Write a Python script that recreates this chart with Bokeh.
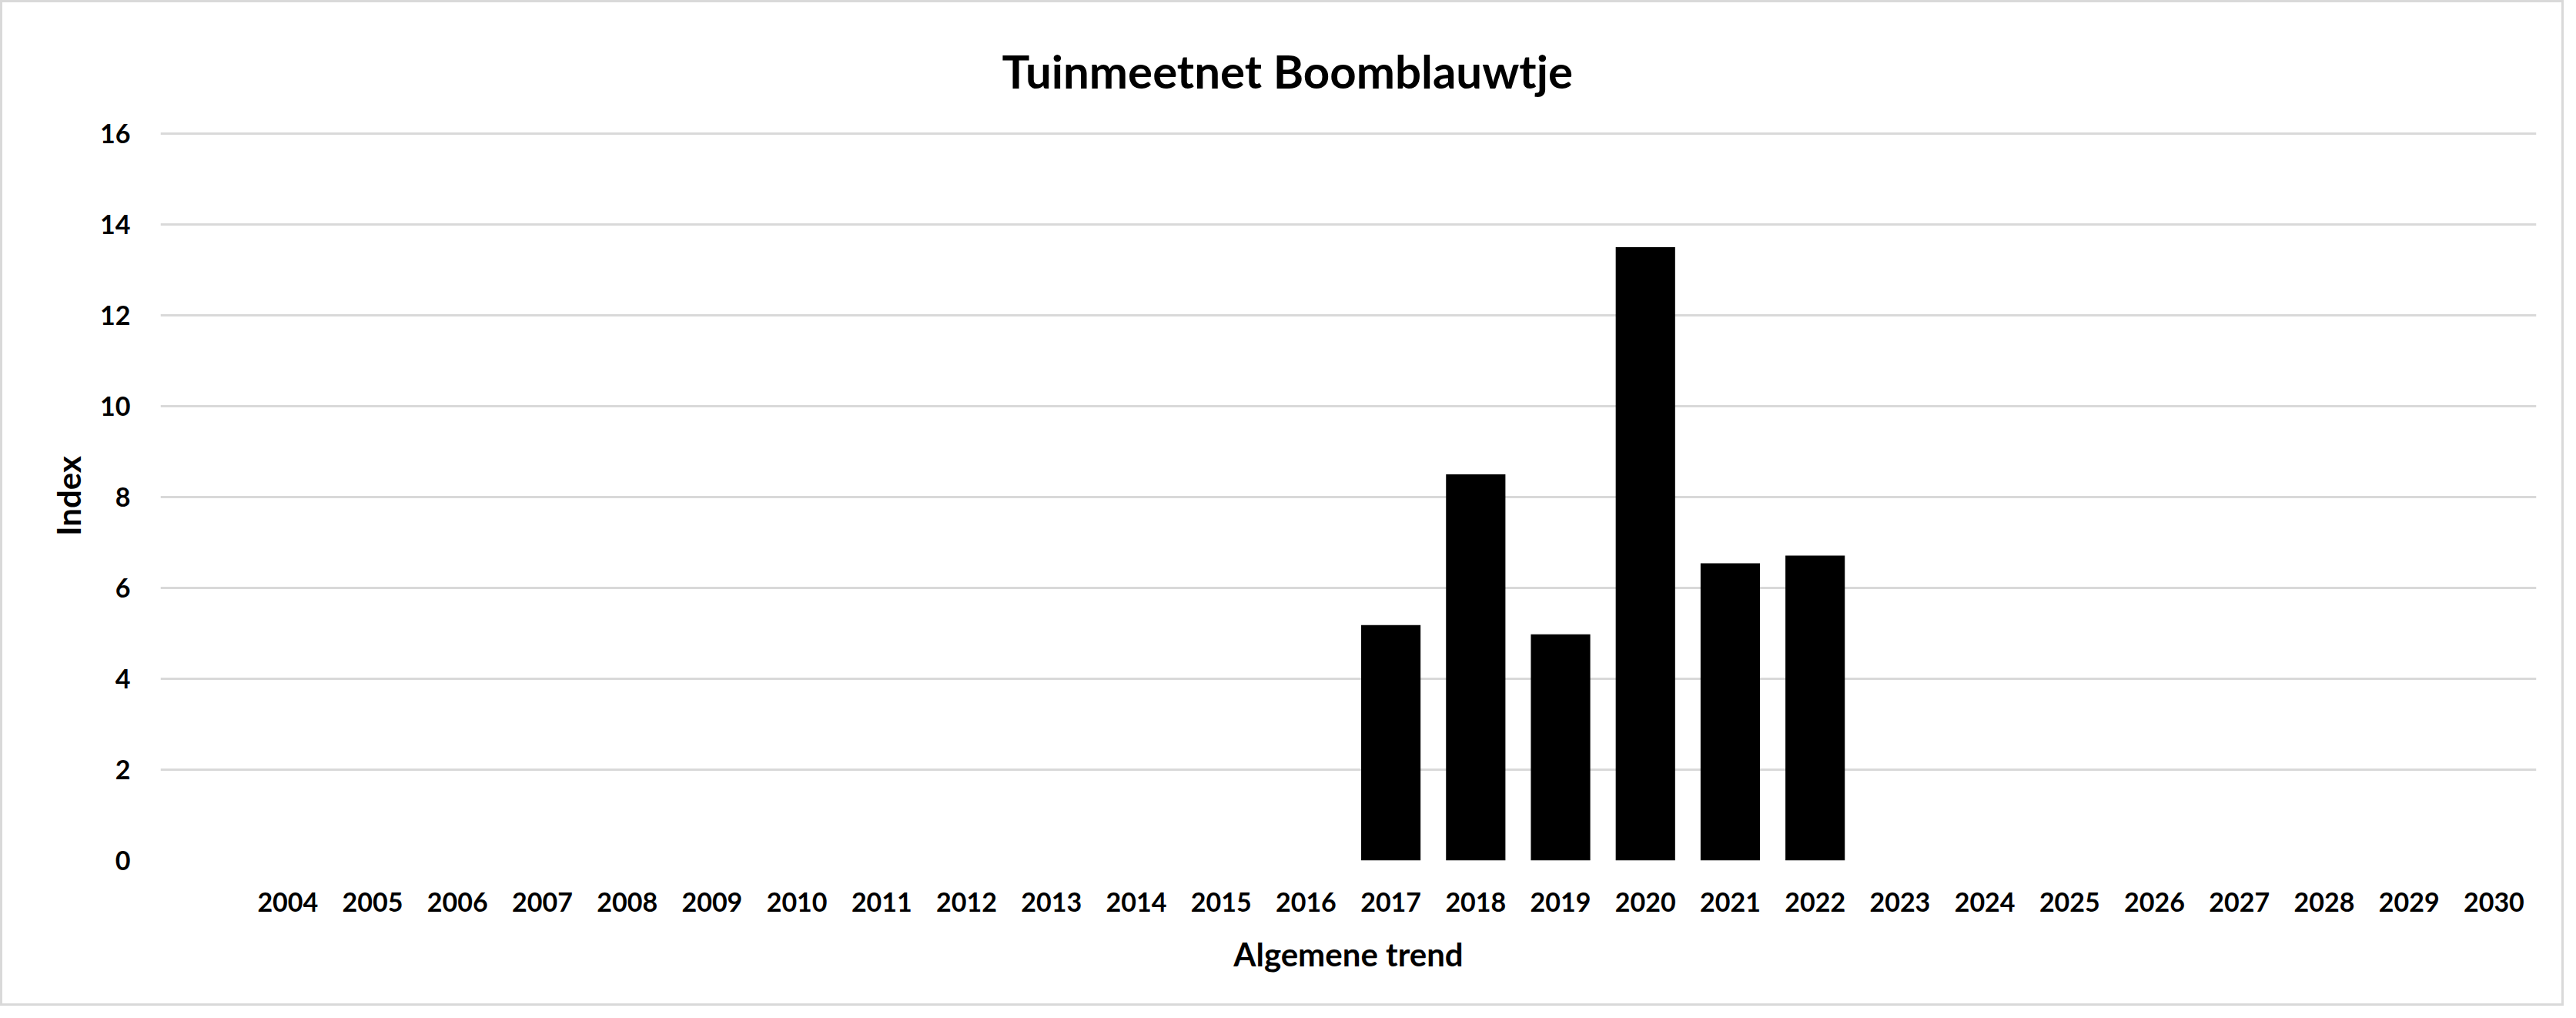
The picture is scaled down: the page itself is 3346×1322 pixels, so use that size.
from bokeh.plotting import figure
from bokeh.models import FactorRange, Range1d, ColumnDataSource, Title
from bokeh.embed import file_html
from bokeh.resources import INLINE

# ---- data ----
categories = [" "] + [str(y) for y in range(2004, 2031)]
bar_years = ["2017", "2018", "2019", "2020", "2021", "2022"]
bar_values = [5.18, 8.50, 4.98, 13.50, 6.54, 6.71]
y_ticks = [0, 2, 4, 6, 8, 10, 12, 14, 16]

title_text = "Tuinmeetnet Boomblauwtje"
x_title = "Algemene trend"
y_title = "Index"

FONT = "Lato"

p = figure(
    width=3330, height=1306,
    x_range=FactorRange(*categories, range_padding=0),
    y_range=Range1d(0, 16.05),
    output_backend="svg", toolbar_location=None,
    min_border_left=205, min_border_right=39,
    min_border_top=167, min_border_bottom=192,
)
p.title = Title(text=title_text, align="left", text_font=FONT,
                text_font_size="60px", text_font_style="bold",
                text_color="black", standoff=86, offset=1093)

src = ColumnDataSource(dict(x=bar_years, top=bar_values))
p.vbar(x="x", top="top", width=0.7, source=src, fill_color="black", line_color=None)

p.outline_line_color = None
p.background_fill_color = "white"
p.border_fill_color = "white"

p.xgrid.grid_line_color = None
p.ygrid.grid_line_color = "#d9d9d9"
p.ygrid.grid_line_width = 3
p.yaxis.ticker = y_ticks

for ax in (p.xaxis[0], p.yaxis[0]):
    ax.axis_line_color = None
    ax.major_tick_line_color = None
    ax.minor_tick_line_color = None
    ax.major_tick_in = 0
    ax.major_tick_out = 0
    ax.major_label_text_font = FONT
    ax.major_label_text_font_style = "bold"
    ax.major_label_text_font_size = "34px"
    ax.major_label_text_color = "black"
    ax.axis_label_text_font = FONT
    ax.axis_label_text_font_style = "bold"
    ax.axis_label_text_font_size = "42px"
    ax.axis_label_text_color = "black"

p.xaxis.axis_label = x_title
p.yaxis.axis_label = y_title
p.xaxis.major_label_standoff = 32
p.xaxis.axis_label_standoff = 20
p.yaxis.major_label_standoff = 39
p.yaxis.axis_label_standoff = 13
p.xaxis.group_text_font_size = "0px"

p.styles = {"border": "3px solid #d9d9d9", "box-sizing": "border-box"}

open("out.html", "w").write(file_html(p, INLINE))
